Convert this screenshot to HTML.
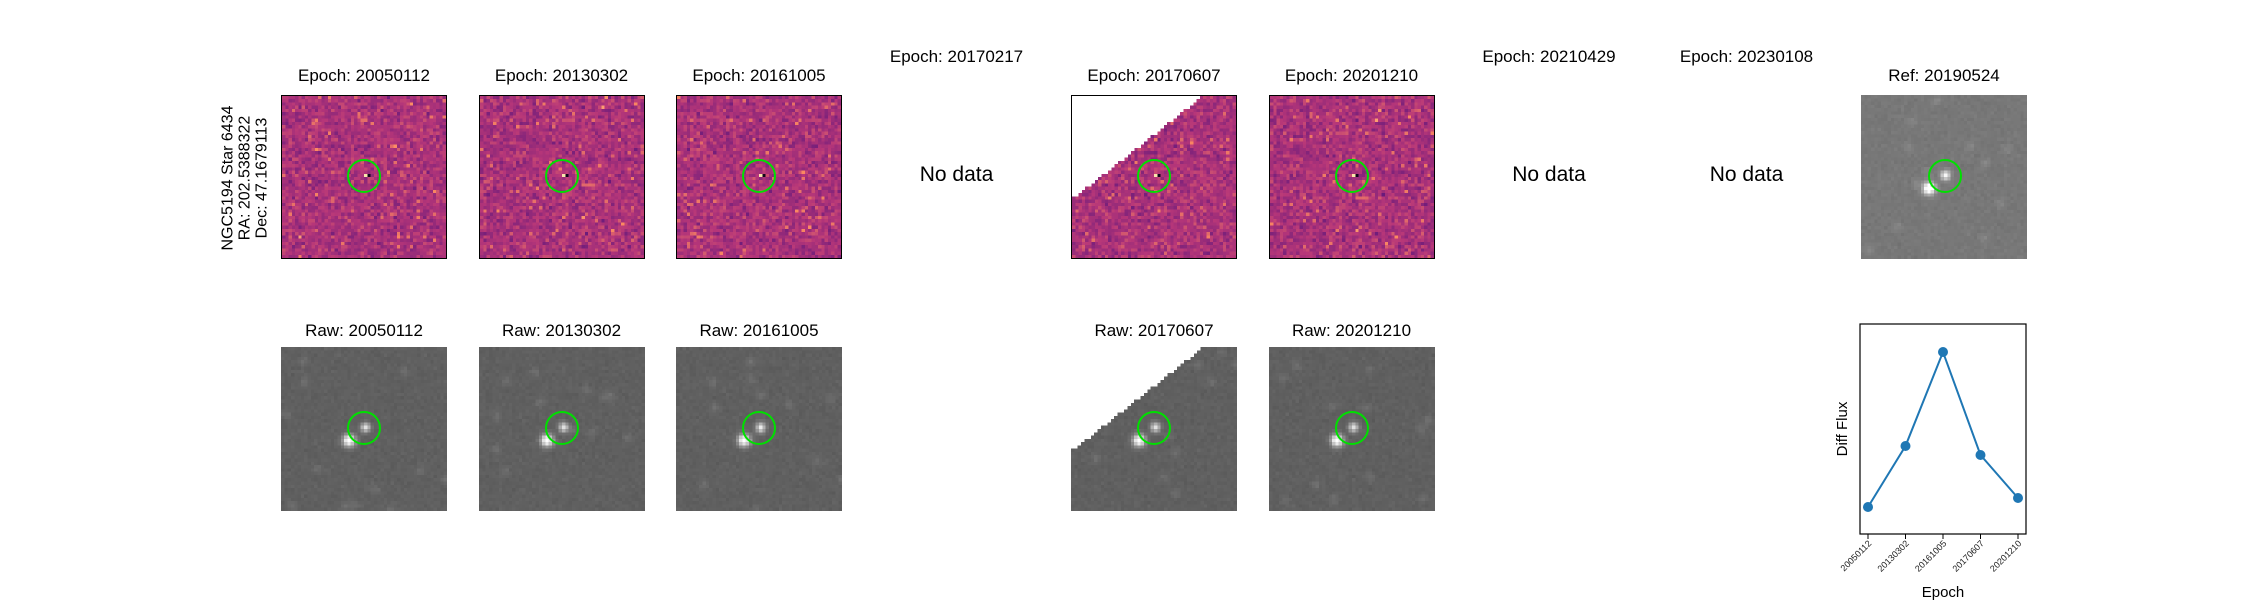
<!DOCTYPE html>
<html><head><meta charset="utf-8">
<style>
body{margin:0;background:#fff;width:2250px;height:600px;position:relative;overflow:hidden;font-family:"Liberation Sans","DejaVu Sans",sans-serif;}
.t{position:absolute;font-size:17px;color:#000;text-align:center;white-space:nowrap;transform:translateX(-50%);}
canvas{position:absolute;image-rendering:pixelated;}
.circ{position:absolute;width:30px;height:30px;border:2px solid #00e000;border-radius:50%;}
</style></head><body>
<div id="root"></div>
<div style="position:absolute;left:245px;top:178px;transform:translate(-50%,-50%) rotate(-90deg);font-size:16px;line-height:17px;text-align:center;white-space:nowrap;">NGC5194 Star 6434<br>RA: 202.5388322<br>Dec: 47.1679113</div>
<svg id="lc" style="position:absolute;left:0;top:0" width="2250" height="600"></svg>
<script>
const diffEpochs=["20050112","20130302","20161005","20170217","20170607","20201210","20210429","20230108"];
const hasData=[true,true,true,false,true,true,false,false];
const lcEpochs=["20050112","20130302","20161005","20170607","20201210"];
const lcFlux=[2.7,8.8,18.2,7.9,3.6];
const refEpoch="20190524";

const root=document.getElementById('root');
const X0=281,DX=197.5,W=166,H=164;
let seed=12345;function rnd(){seed=(seed*1103515245+12345)&0x7fffffff;return seed/0x7fffffff;}
function gauss(){return (rnd()+rnd()+rnd()+rnd()-2)*0.87;}
const mag=[[0,0,0,4],[0.25,81,18,124],[0.5,183,55,121],[0.75,252,137,97],[1,252,253,191]];
function magma(v){v=Math.max(0,Math.min(1,v));for(let i=1;i<mag.length;i++){if(v<=mag[i][0]){const a=mag[i-1],b=mag[i],f=(v-a[0])/(b[0]-a[0]);return `rgb(${a[1]+(b[1]-a[1])*f|0},${a[2]+(b[2]-a[2])*f|0},${a[3]+(b[3]-a[3])*f|0})`;}}}
function title(txt,cx,y,name){const d=document.createElement('div');d.className='t';d.textContent=txt;d.style.left=cx+'px';d.style.top=y+'px';


root.appendChild(d);}
function circle(cx,cy){const c=document.createElement('div');c.className='circ';c.style.left=(cx-17)+'px';c.style.top=(cy-17)+'px';


root.appendChild(c);}
function canvasAt(x,y,name,border){const c=document.createElement('canvas');c.width=50;c.height=50;c.style.left=x+'px';c.style.top=y+'px';c.style.width=W+'px';c.style.height=H+'px';if(border){c.style.boxSizing='border-box';c.style.border='1.5px solid #000';}


root.appendChild(c);return c.getContext('2d');}
function diffImg(ctx,mask){for(let j=0;j<50;j++)for(let i=0;i<50;i++){if(mask&&mask(i,j)){ctx.fillStyle='#fff';}else{let v=0.47+gauss()*0.1;if(rnd()<0.03)v+=0.18;ctx.fillStyle=magma(v);}ctx.fillRect(i,j,1,1);}
ctx.fillStyle=magma(0.95);ctx.fillRect(25,24,1,1);ctx.fillStyle=magma(0.05);ctx.fillRect(26,24,1,1);}
function rawImg(ctx,base,mask){const stars=[[25,24,1.3,1.0],[20,28,1.8,1.3]];for(let k=0;k<12;k++)stars.push([rnd()*50,rnd()*50,0.15,1.0]);
for(let j=0;j<50;j++)for(let i=0;i<50;i++){if(mask&&mask(i,j)){ctx.fillStyle='#fff';ctx.fillRect(i,j,1,1);continue;}let v=base+gauss()*5;for(const s of stars){const d2=(i-s[0])**2+(j-s[1])**2;v+=s[2]*100*Math.exp(-d2/(2*s[3]*s[3]));}v=Math.max(0,Math.min(255,v))|0;ctx.fillStyle=`rgb(${v},${v},${v})`;ctx.fillRect(i,j,1,1);}}
const triMask=(i,j)=>i<39&&j<31*(1-i/39);
for(let k=0;k<8;k++){const x=X0+DX*k,cx=x+W/2;
 if(hasData[k]){title('Epoch: '+diffEpochs[k],cx,66,'diff-title-'+diffEpochs[k]);
  diffImg(canvasAt(x,95,'diff-image-'+diffEpochs[k],true),k===4?triMask:null);circle(cx,176);
  title('Raw: '+diffEpochs[k],cx,321,'raw-title-'+diffEpochs[k]);
  rawImg(canvasAt(x,347,'raw-image-'+diffEpochs[k],false),96,k===4?triMask:null);circle(cx,428);
 }else{title('Epoch: '+diffEpochs[k],cx,47,'nodata-title-'+diffEpochs[k]);
  const n=document.createElement('div');n.className='t';n.style.fontSize='21px';n.textContent='No data';n.style.left=cx+'px';n.style.top='163px';
  
  
  root.appendChild(n);}
}
const rx=X0+DX*8;title('Ref: '+refEpoch,rx+W/2,66,'ref-title');
rawImg(canvasAt(rx,95,'ref-image',false),120,null);circle(rx+W/2+1,176);

// light curve
const svg=document.getElementById('lc');const NS='http://www.w3.org/2000/svg';
const L=1860,T=324,R=2026,B=534,yMin=0,yMax=21;
const xS=i=>1868+i*(2018-1868)/(lcEpochs.length-1);const yS=v=>B-(v-yMin)/(yMax-yMin)*(B-T);
function el(t,a,name){const e=document.createElementNS(NS,t);for(const k in a)e.setAttribute(k,a[k]);


svg.appendChild(e);return e;}
el('rect',{x:L,y:T,width:R-L,height:B-T,fill:'none',stroke:'#000','stroke-width':1.2},'plot-frame');
el('polyline',{points:lcFlux.map((v,i)=>xS(i)+','+yS(v)).join(' '),fill:'none',stroke:'#1f77b4','stroke-width':2},'flux-line');
lcFlux.forEach((v,i)=>{el('circle',{cx:xS(i),cy:yS(v),r:5,fill:'#1f77b4'},'flux-point');
 el('line',{x1:xS(i),y1:B,x2:xS(i),y2:B+5,stroke:'#000'},'x-tick');
 const ax=xS(i)+4,ay=B+10;
 const t=el('text',{x:ax,y:ay,'font-size':9,'text-anchor':'end','font-family':'Liberation Sans, sans-serif',fill:'#222',transform:`rotate(-45 ${ax} ${ay})`},'x-tick-label');t.textContent=lcEpochs[i];});
const xl=el('text',{x:(L+R)/2,y:597,'font-size':15,'text-anchor':'middle','font-family':'Liberation Sans, sans-serif'},'x-axis-title');xl.textContent='Epoch';
const yl=el('text',{x:1847,y:(T+B)/2,'font-size':15,'text-anchor':'middle','font-family':'Liberation Sans, sans-serif',transform:`rotate(-90 1847 ${(T+B)/2})`},'y-axis-title');yl.textContent='Diff Flux';
</script>
</body></html>
